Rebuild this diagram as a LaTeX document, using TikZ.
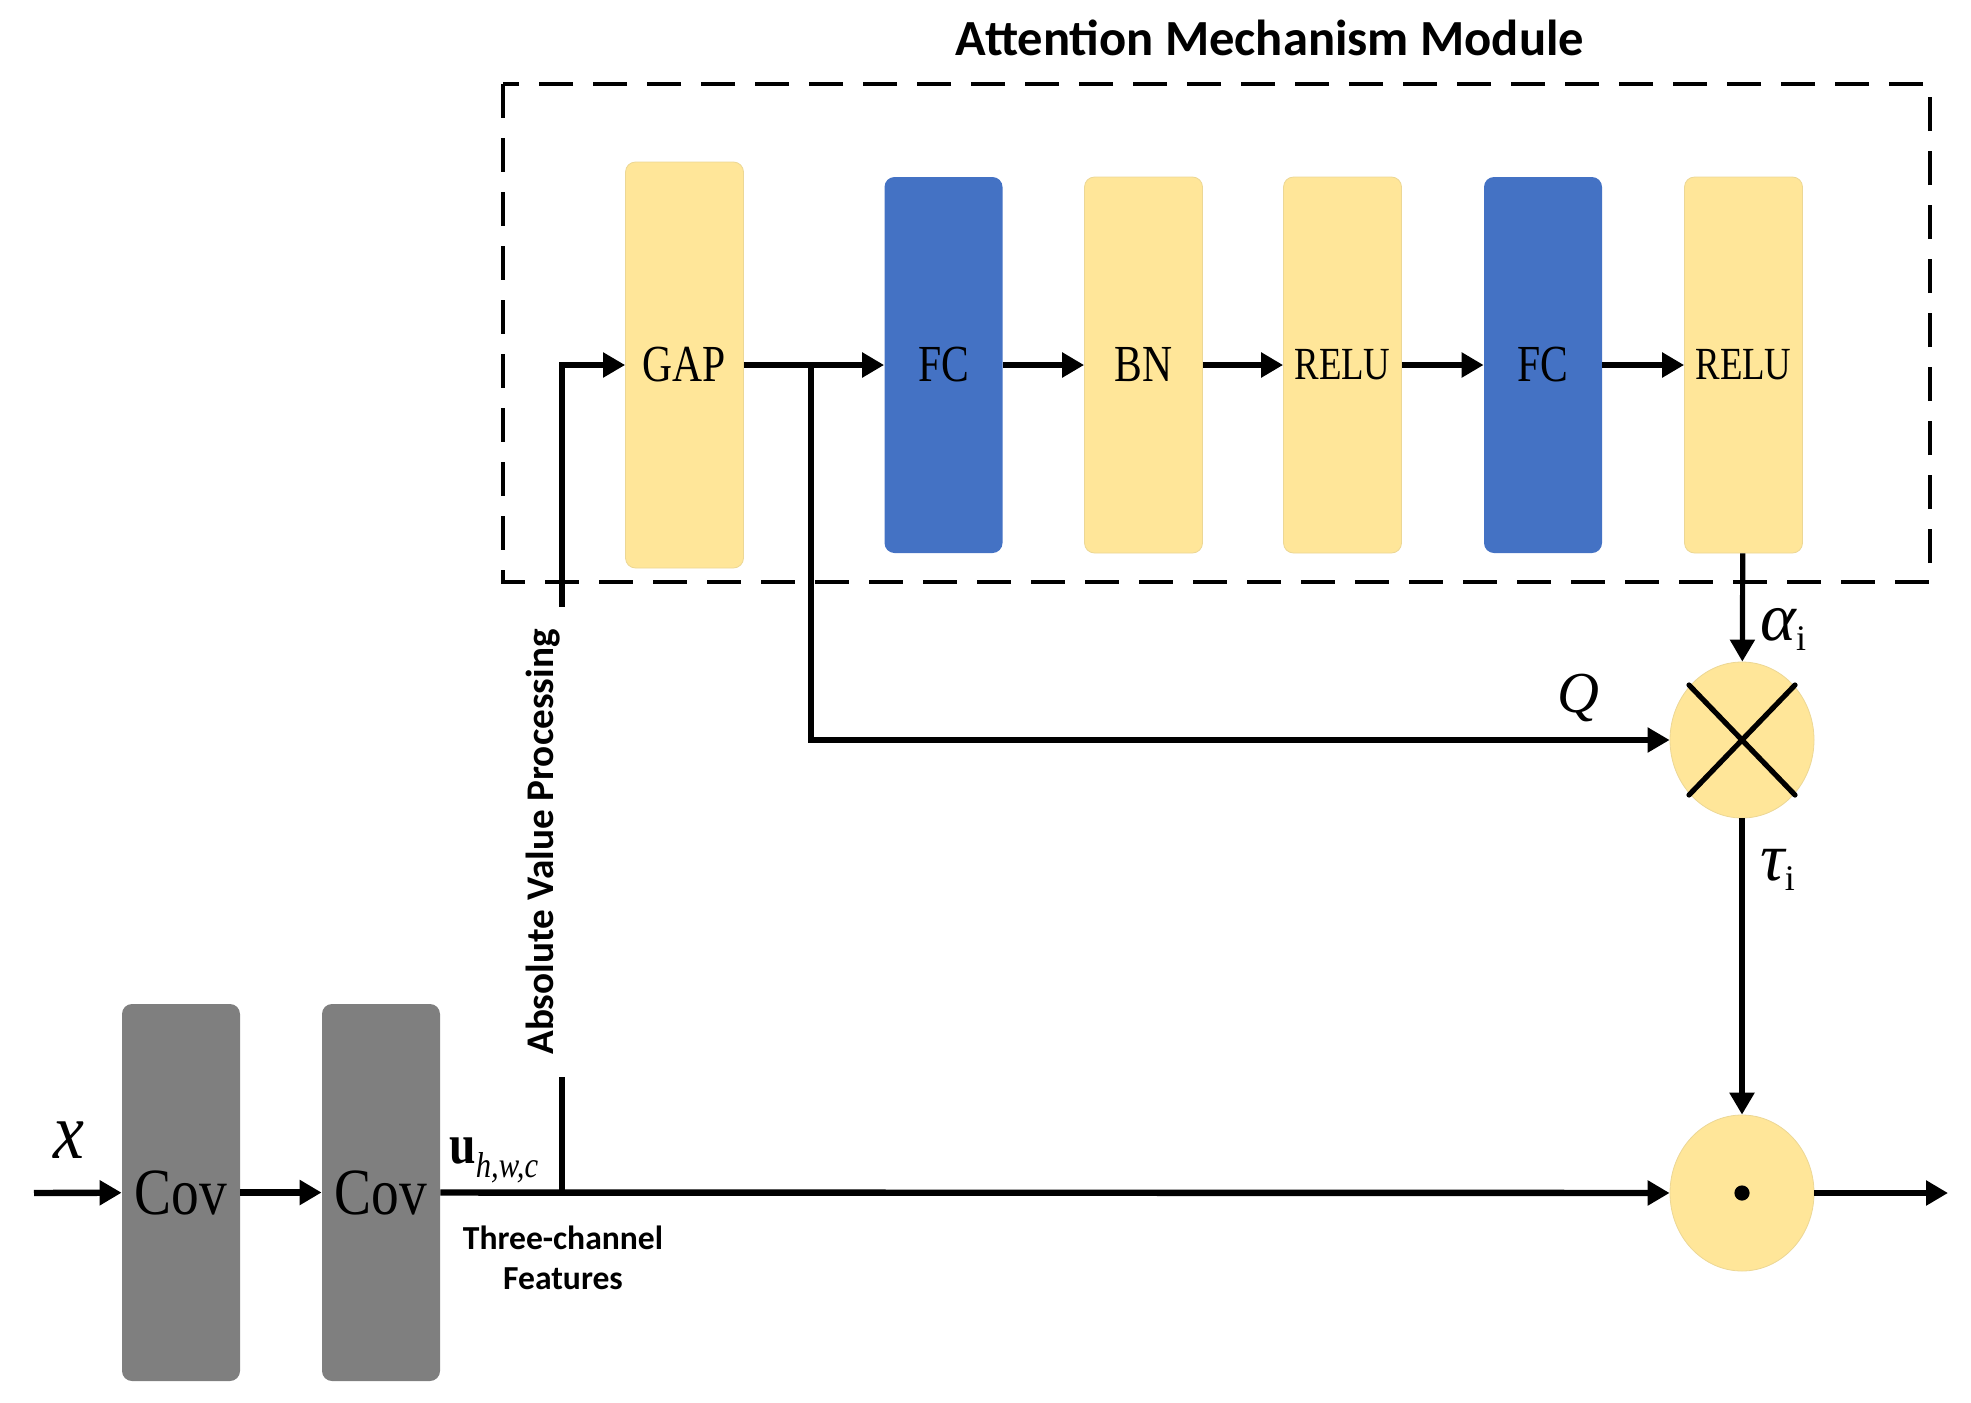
\documentclass[tikz,border=0pt]{standalone}
\usepackage{graphicx}
\usepackage{fontspec}
\setmainfont{Liberation Serif}
\newfontfamily\calib{Carlito}
\usetikzlibrary{arrows.meta,shapes.geometric}
\definecolor{ylw}{HTML}{FFE699}
\definecolor{blu}{HTML}{4472C4}
\definecolor{gry}{HTML}{7F7F7F}
\newcommand\boxlbl[2][26]{\scalebox{0.8}[1]{\fontsize{#1}{#1}\selectfont #2}}
\newcommand\covlbl[1]{\scalebox{0.84}[1]{\fontsize{33}{33}\selectfont #1}}
\begin{document}
\begin{tikzpicture}[x=0.5pt,y=-0.5pt,
  yb/.style={fill=ylw, draw=ylw!85!gray, line width=0.4pt, rounded corners=5pt, minimum width=59pt, minimum height=188pt, inner sep=0pt},
  bb/.style={fill=blu, rounded corners=5pt, minimum width=59pt, minimum height=188pt, inner sep=0pt},
  gb/.style={fill=gry, rounded corners=5pt, minimum width=59pt, minimum height=188.5pt, inner sep=0pt},
  mulnode/.style={ellipse, fill=ylw, draw=ylw!85!gray, line width=0.4pt, minimum width=72pt, minimum height=78pt, inner sep=0pt},
  thk/.style={line width=3.2pt, -{Triangle[length=11pt,width=12pt]}},
  thn/.style={line width=2.6pt},
  thnarr/.style={line width=2.6pt, -{Triangle[length=11pt,width=12pt]}},
  dbox/.style={line width=2.2pt, dash pattern=on 17pt off 10pt},
  sanslbl/.style={font=\calib\bfseries}
]
\useasboundingbox (0,0) rectangle (1971,1403);

% title and dashed module frame
\node[sanslbl, font=\calib\bfseries\fontsize{25.3}{25.3}\selectfont] (title) at (1270,38) {Attention Mechanism Module};
\draw[dbox] (503,84) rectangle (1930,582);

% attention module boxes
\node[yb, minimum height=203pt] (gap) at (684.5,365) {\boxlbl{GAP}};
\node[bb] (fc1) at (943.5,365) {\boxlbl{FC}};
\node[yb] (bn) at (1143.5,365) {\boxlbl{BN}};
\node[yb] (relu1) at (1342.5,365) {\boxlbl[23]{RELU}};
\node[bb] (fc2) at (1543,365) {\boxlbl{FC}};
\node[yb] (relu2) at (1743.5,365) {\boxlbl[23]{RELU}};

% operators
\node[mulnode] (mul) at (1742,740) {};
\node[mulnode] (dot) at (1742,1193) {};
\draw[line width=2.6pt, line cap=round] (mul.center) ++(-53,-55) -- ++(106,110);
\draw[line width=2.6pt, line cap=round] (mul.center) ++(53,-55) -- ++(-106,110);
\fill (dot.center) circle (3.8pt);

% conv blocks
\node[gb] (cov1) at (181,1192.5) {\covlbl{Cov}};
\node[gb] (cov2) at (381,1192.5) {\covlbl{Cov}};

% coordinates
\coordinate (in) at (34,1193);
\coordinate (out) at (1948,1193);
\coordinate (tap) at (562,1193);
\coordinate (up) at (562,365);
\coordinate (br) at (811,365);
\coordinate (brd) at (811,740);

% rotated label
\node[sanslbl, font=\calib\bfseries\fontsize{19.6}{19.6}\selectfont, rotate=90, inner xsep=11pt, inner ysep=0pt] (abs) at (543,842) {Absolute Value Processing};

% connectors
\draw[thk] (in) -- (cov1);
\draw[thk] (cov1) -- (cov2);
\draw[thk] (cov2) -- (dot);
\draw[thk] (dot) -- (out);
\draw[thn] (tap) -- (tap |- abs.west);
\draw[thnarr] (tap |- abs.east) -- (up) -- (gap);
\draw[thk] (gap) -- (fc1);
\draw[thnarr] (br) -- (brd) -- (mul);
\draw[thk] (fc1) -- (bn);
\draw[thk] (bn) -- (relu1);
\draw[thk] (relu1) -- (fc2);
\draw[thk] (fc2) -- (relu2);
\draw[thnarr] (relu2) -- (mul);
\draw[thk] (mul) -- (dot);

% labels
\node (xlbl) at (69,1140) {\scalebox{0.87}[1]{\fontsize{40}{40}\selectfont\itshape x}};
\node[anchor=base west, inner sep=0pt] (ulbl) at (449,1163) {\scalebox{0.85}[1]{\fontsize{28}{28}\selectfont\bfseries u}\raisebox{-7pt}{\scalebox{0.85}[1]{\fontsize{18}{18}\selectfont\itshape h,w,c}}};
\node[sanslbl, font=\calib\bfseries\fontsize{16.8}{20}\selectfont, align=center] (feat) at (563,1258) {Three-channel\\Features};
\node (qlbl) at (1578,698) {\fontsize{29}{29}\selectfont\itshape Q};
\node[anchor=base west, inner sep=0pt] (albl) at (1760,640) {\fontsize{34}{34}\selectfont\itshape α\raisebox{-5pt}{\fontsize{18}{18}\selectfont\upshape i}};
\node[anchor=base west, inner sep=0pt] (tlbl) at (1760,880) {\fontsize{34}{34}\selectfont\itshape τ\raisebox{-5pt}{\fontsize{18}{18}\selectfont\upshape i}};
\end{tikzpicture}
\end{document}
